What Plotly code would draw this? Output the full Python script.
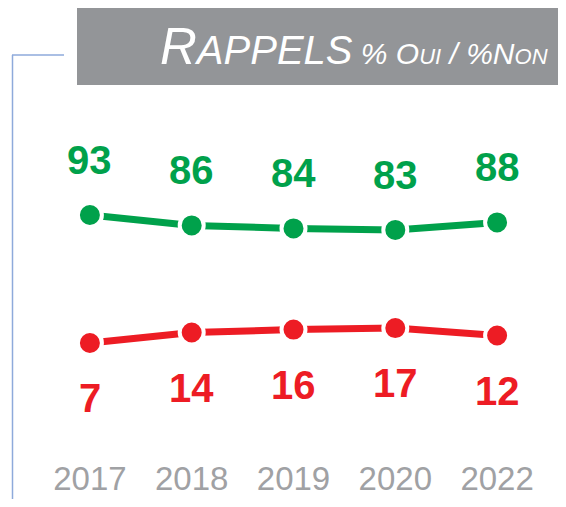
import plotly.graph_objects as go

years = ["2017", "2018", "2019", "2020", "2022"]
oui = [93, 86, 84, 83, 88]
non = [7, 14, 16, 17, 12]

GREEN = "#00a14b"
RED = "#ed1c24"
OFF = 8  # page body margin
W, H = 566 - OFF, 507 - 2 * OFF
L, T = 39 - OFF, 100 - OFF
R = W - (548 - OFF)
B = H - (450 - OFF)
PW, PH = W - L - R, H - T - B


def xp(px):
    return (px - OFF - L) / PW


def yp(py):
    return (H - B - (py - OFF)) / PH


fig = go.Figure()
for vals, col in [(oui, GREEN), (non, RED)]:
    fig.add_trace(go.Scatter(
        x=years, y=vals, mode="lines+markers",
        line=dict(color=col, width=7),
        marker=dict(size=24, color=col, line=dict(color="white", width=4)),
        hoverinfo="skip", showlegend=False, cliponaxis=False))

annotations = []
for i, v in enumerate(oui):
    annotations.append(dict(x=i, y=v, xref="x", yref="y", text="<b>%d</b>" % v, showarrow=False,
                            yshift=55, font=dict(family="Liberation Sans, Arial", size=40, color=GREEN),
                            xanchor="center", yanchor="middle"))
for i, v in enumerate(non):
    annotations.append(dict(x=i, y=v, xref="x", yref="y", text="<b>%d</b>" % v, showarrow=False,
                            yshift=-55, font=dict(family="Liberation Sans, Arial", size=40, color=RED),
                            xanchor="center", yanchor="middle"))

title = ("<i><span style='font-size:51px'>R</span><span style='font-size:40px'>APPELS</span>"
         "<span style='font-size:30px'> % O</span><span style='font-size:22px'>UI</span>"
         "<span style='font-size:30px'> / %N</span><span style='font-size:22px'>ON</span></i>")
annotations.append(dict(x=xp(158), y=yp(47), xref="paper", yref="paper", text=title, showarrow=False,
                        xanchor="left", yanchor="middle",
                        font=dict(family="Liberation Sans, Arial", size=30, color="white")))

shapes = [
    dict(type="rect", xref="paper", yref="paper", x0=xp(77), x1=xp(600), y0=yp(85), y1=yp(8),
         fillcolor="#939598", line=dict(width=0), layer="below"),
    dict(type="line", xref="paper", yref="paper", x0=xp(12.5), x1=xp(12.5), y0=yp(55), y1=yp(520),
         line=dict(color="#8eaadb", width=1.5)),
    dict(type="line", xref="paper", yref="paper", x0=xp(12), x1=xp(64), y0=yp(55), y1=yp(55),
         line=dict(color="#8eaadb", width=1.5)),
]

fig.update_layout(
    width=W, height=H, autosize=False,
    margin=dict(l=L, r=R, t=T, b=B, pad=0, autoexpand=False),
    paper_bgcolor="white", plot_bgcolor="white",
    annotations=annotations, shapes=shapes,
    xaxis=dict(type="category", range=[-0.5, 4.5], showgrid=False, zeroline=False, showline=False,
               ticks="", ticklabelstandoff=6, automargin=False,
               tickfont=dict(family="Liberation Sans, Arial", size=33, color="#a0a1a4")),
    yaxis=dict(range=[-64.93, 170.28], visible=False, showgrid=False, zeroline=False, automargin=False),
)

fig.write_html("out.html")
